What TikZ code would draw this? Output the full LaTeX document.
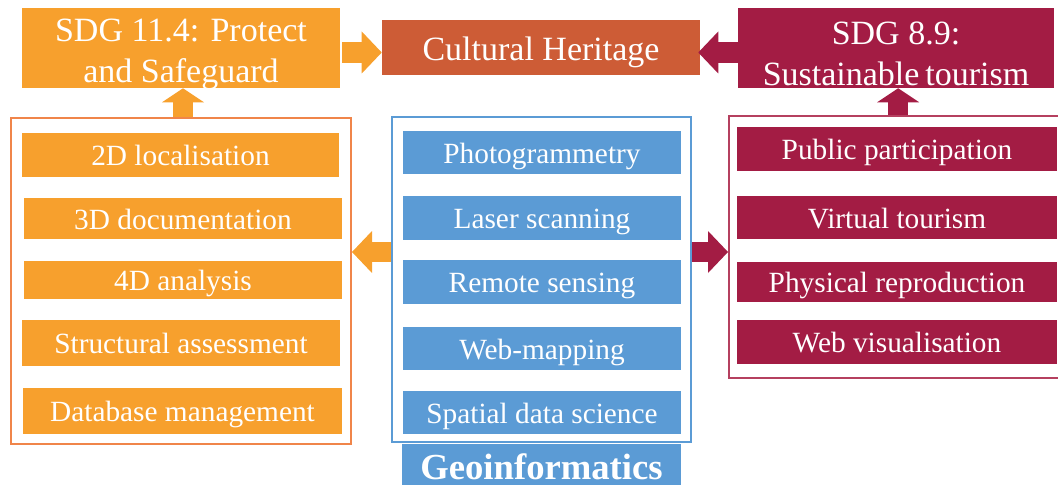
\documentclass[tikz,border=0pt]{standalone}
\usepackage{fontspec}
\setmainfont{Liberation Serif}
\usetikzlibrary{arrows.meta}
\definecolor{orng}{HTML}{F7A02D}
\definecolor{orngb}{HTML}{F0854A}
\definecolor{heri}{HTML}{CD5C36}
\definecolor{crim}{HTML}{A31C44}
\definecolor{crimb}{HTML}{B5405F}
\definecolor{blu}{HTML}{5B9BD5}
\tikzset{
  sz/.style 2 args={minimum width=#1*0.75pt, minimum height=#2*0.75pt},
  fbox/.style={fill=#1, draw=none, inner sep=0pt, text=white, align=center},
  item/.style={fbox=#1, font=\fontsize{22}{24}\selectfont, text height=20pt, text depth=4.2pt},
  bigtxt/.style={text=white, align=center, font=\fontsize{25.5}{30.75}\selectfont, inner sep=0pt},
  big/.style={fbox=#1},
  panel/.style={draw=#1, line width=1.5pt, fill=none, inner sep=0pt},
  harrow/.style={draw=#1, line width=15.5pt, line cap=butt,
    -{Triangle[width=31.5pt,length=15pt,line width=0pt]}},
  varrow/.style={draw=#1, line width=15pt, line cap=butt,
    -{Triangle[width=31.5pt,length=10.5pt,line width=0pt]}},
}
\begin{document}
\begin{tikzpicture}[x=0.75pt,y=-0.75pt]
\useasboundingbox (0,0) rectangle (1058,485);
% top row
\node[big=orng, sz={318}{80},
  label={[bigtxt, yshift=-4.5pt]center:{SDG 11.4: Protect\\and Safeguard}}] (s114) at (181,48) {};
\node[fbox=heri, sz={318}{55}, font=\fontsize{25.5}{30}\selectfont, text height=23.8pt, text depth=5pt] (ch) at (541,47.5) {Cultural Heritage};
\node[big=crim, sz={316}{80},
  label={[bigtxt, yshift=-4.5pt]center:{SDG 8.9:\\Sustainable\hspace{-2pt} tourism}}] (s89) at (896,48) {};
% panels
\node[panel=orngb, sz={340}{326}] (lp) at (181,281) {};
\node[panel=blu, sz={299}{325}] (mp) at (541.5,279.5) {};
\node[panel=crimb, sz={341}{262}] (rp) at (899.5,247) {};
% left items
\node[item=orng, sz={317}{44}] (l1) at (180.5,155) {2D localisation};
\node[item=orng, sz={318}{41}] (l2) at (183,218.5) {3D documentation};
\node[item=orng, sz={318}{38}] (l3) at (183,280) {4D analysis};
\node[item=orng, sz={318}{46}] (l4) at (181,343) {Structural assessment};
\node[item=orng, sz={319}{46}] (l5) at (182.5,411) {Database management};
% middle items
\node[item=blu, sz={278}{43}] (m1) at (542,152.5) {Photogrammetry};
\node[item=blu, sz={278}{44}] (m2) at (542,218) {Laser scanning};
\node[item=blu, sz={278}{44}] (m3) at (542,282) {Remote sensing};
\node[item=blu, sz={278}{43}] (m4) at (542,348.5) {Web-mapping};
\node[item=blu, sz={278}{43}] (m5) at (542,412.5) {Spatial data science};
\node[fbox=blu, sz={279}{41}, font=\fontsize{27.5}{30}\selectfont\bfseries, text height=21.8pt, text depth=0pt] (geo) at (541.5,464.5) {Geoinformatics};
% right items
\node[item=crim, sz={320}{44}] (r1) at (897,149) {Public participation};
\node[item=crim, sz={320}{43}] (r2) at (897,217.5) {Virtual tourism};
\node[item=crim, sz={320}{40}] (r3) at (897,282) {Physical reproduction};
\node[item=crim, sz={320}{44}] (r4) at (897,342) {Web visualisation};
% arrows
\coordinate (ay) at (0,52.5);
\coordinate (by) at (0,252);
\draw[harrow=orng] ([xshift=1.5pt]s114.east |- ay) -- (ch.west |- ay);
\draw[harrow=crim] (s89.west |- ay) -- ([xshift=-1.5pt]ch.east |- ay);
\draw[varrow=orng] ([xshift=1.5pt]lp.north) -- ([xshift=1.5pt]lp.north |- s114.south);
\draw[varrow=crim] ([xshift=-1pt]rp.north) -- ([xshift=-1pt]rp.north |- s89.south);
\draw[harrow=orng] (mp.west |- by) -- (lp.east |- by);
\draw[harrow=crim] (mp.east |- by) -- (rp.west |- by);
\end{tikzpicture}
\end{document}
